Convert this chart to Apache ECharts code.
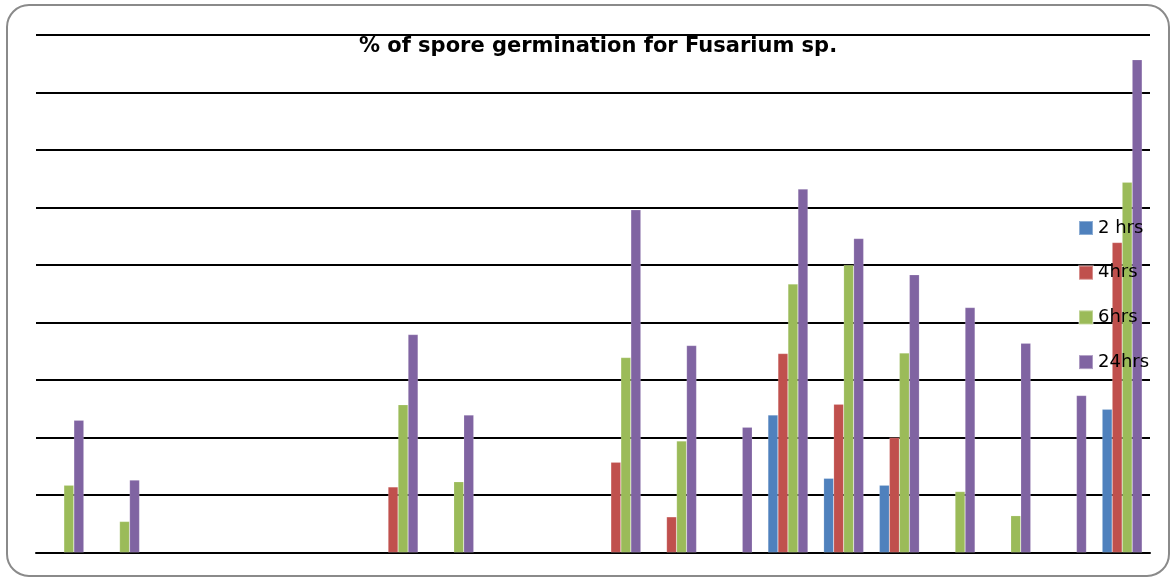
<!DOCTYPE html>
<html>
<head>
<meta charset="utf-8">
<title>% of spore germination for Fusarium sp.</title>
<script src="https://cdn.jsdelivr.net/npm/echarts@6/dist/echarts.min.js"></script>
<style>
  html, body { margin: 0; padding: 0; background: #fff; }
  #chart { width: 1171px; height: 578px; }
</style>
</head>
<body>
<div id="chart"></div>
<script>
// treatments (axis labels are not shown on the original)
const categories = ['T1', 'T2', 'T3', 'T4', 'T5', 'T6', 'T7', 'T8', 'T9', 'T10',
                    'T11', 'T12', 'T13', 'T14', 'T15', 'T16', 'T17', 'T18', 'T19', 'T20'];
// germination values per exposure time (null = no bar)
const hrs2  = [null, null, null, null, null, null, null, null, null, null,
               null, null, null, 23.9, 12.9, 11.7, null, null, null, 24.9];
const hrs4  = [null, null, null, null, null, null, 11.4, null, null, null,
               15.7, 6.2, null, 34.6, 25.8, 20.0, null, null, null, 53.9];
const hrs6  = [11.7, 5.4, null, null, null, null, 25.7, 12.3, null, null,
               33.9, 19.4, null, 46.7, 50.0, 34.7, 10.6, 6.4, null, 64.4];
const hrs24 = [23.0, 12.6, null, null, null, null, 37.9, 23.9, null, null,
               59.6, 36.0, 21.8, 63.2, 54.6, 48.3, 42.6, 36.4, 27.3, 85.7];
const seriesNames = ['2 hrs', '4hrs', '6hrs', '24hrs'];
const colors = ['#4F81BD', '#C0504D', '#9BBB59', '#8064A2'];

const chart = echarts.init(document.getElementById('chart'));

const makeBar = (name, data) => ({
    name: name,
    type: 'bar',
    data: data,
    barWidth: 10,
    barGap: '0%',
    itemStyle: {
        borderColor: 'rgba(255,255,255,0.35)',
        borderWidth: 0.5
    }
});

const option = {
    animation: false,
    color: colors,
    title: {
        text: '% of spore germination for Fusarium sp.',
        left: 593,
        textAlign: 'center',
        top: 31,
        textStyle: {
            fontFamily: 'DejaVu Sans',
            fontWeight: 'bold',
            fontSize: 21,
            color: '#000'
        }
    },
    legend: {
        orient: 'vertical',
        left: 1073,
        top: 214,
        itemWidth: 14,
        itemHeight: 14,
        itemGap: 26.7,
        icon: 'rect',
        textStyle: {
            fontFamily: 'DejaVu Sans',
            fontSize: 18,
            lineHeight: 16,
            color: '#000'
        },
        data: seriesNames
    },
    grid: {
        left: 36,
        right: 21,
        top: 35,
        bottom: 25.5,
        containLabel: false
    },
    xAxis: {
        type: 'category',
        data: categories,
        axisLine: { lineStyle: { color: '#000', width: 2 } },
        axisTick: { show: false },
        axisLabel: { show: false }
    },
    yAxis: {
        type: 'value',
        min: 0,
        max: 90,
        interval: 10,
        axisLine: { show: false },
        axisTick: { show: false },
        axisLabel: { show: false },
        splitLine: { lineStyle: { color: '#000', width: 2 } }
    },
    series: [
        makeBar(seriesNames[0], hrs2),
        makeBar(seriesNames[1], hrs4),
        makeBar(seriesNames[2], hrs6),
        makeBar(seriesNames[3], hrs24)
    ],
    graphic: [{
        type: 'rect',
        shape: { x: 7, y: 5, width: 1162, height: 571, r: 22 },
        style: { fill: 'none', stroke: '#8a8a8a', lineWidth: 2 },
        silent: true
    }]
};

chart.setOption(option);
</script>
</body>
</html>
